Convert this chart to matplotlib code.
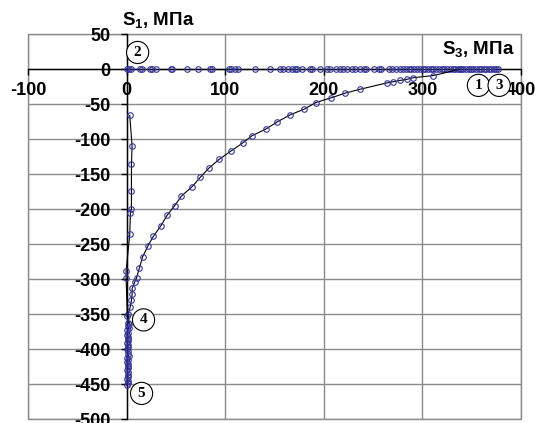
import matplotlib
matplotlib.use("Agg")
import matplotlib.pyplot as plt
from matplotlib.patches import Rectangle

plt.rcParams["font.family"] = ["Liberation Sans", "DejaVu Sans"]
plt.rcParams["mathtext.fontset"] = "custom"
plt.rcParams["mathtext.rm"] = "Liberation Sans"
plt.rcParams["mathtext.bf"] = "Liberation Sans:bold"
plt.rcParams["axes.unicode_minus"] = False

# Path along the S3 axis (S1 = 0)
path_a_s3 = [0.7, 2.3, 4.7, 13.5, 15.9, 23.6, 26, 29.4, 44.6, 46.3, 60.8, 72, 84, 86.7,
             103.6, 106, 109.5, 113, 130.3, 145, 156, 158.8, 163.5, 167.5, 170.6, 172.6,
             177.7, 186.2, 188.2, 196.4, 203, 206.5, 212, 216.7, 220, 223.5, 228.7, 232,
             236.5, 240.6, 242.7, 250.6, 255.7, 258.1, 266.7, 269.4, 273.5, 277, 280, 283,
             286.5, 289, 292, 295, 298, 300.5, 303, 306, 309, 311, 314, 317, 320, 322.5,
             325, 328, 331, 333.5, 336, 339, 341.5, 344, 347, 349.5, 352, 355, 357.5, 360,
             362.5, 365, 367.5, 370, 372.5, 375, 377]
path_a_s1 = [0] * len(path_a_s3)

# Curved path from point 1 to point 4
path_b_s3 = [338, 311, 291, 284, 277, 270, 264, 237, 222, 207, 192, 180, 166, 153, 141,
             127, 117.5, 105.5, 94, 83.5, 74.5, 66.5, 55.5, 48.5, 41, 34.4, 27, 21.6, 16,
             12.8, 10, 8, 5.4, 5.4, 4.7, 3.4, 1.3, 2.7]
path_b_s1 = [0, -9, -12, -14.5, -16, -18, -19.5, -28.5, -34, -41, -47.5, -57, -65, -75,
             -85.5, -95, -105.5, -117, -128.5, -141, -154.5, -167.5, -181, -195, -208.5,
             -224, -238.5, -252, -268, -284, -297.5, -304, -313, -321, -330, -340, -350,
             -364]

# Path along the S1 axis down to point 5
path_c_s3 = [3, 5.4, 4.7, 4.7, 4.7, 3.7, 3, -0.7, -0.7, 0.5, 1.5, 0.8, 1.8, 0.6, 1.2,
             0.4, 1.6, 0.9, 1.3, 0.5, 1.7, 1.0, 0.6, 1.4, 0.8, 1.9, 0.5, 1.2, 0.7, 1.5,
             0.9, 1.6, 0.4, 1.1, 0.8, 1.4, 0.6, 1.3, 1.0, 0.5]
path_c_s1 = [-66, -110, -136, -174, -199, -205, -236, -288, -298, -352, -362, -366,
             -370, -373, -376, -379, -382, -385, -388, -391, -394, -397, -400, -403,
             -406, -409, -412, -415, -418, -421, -424, -427, -430, -433, -436, -439,
             -442, -445, -448, -451]

# Numbered states
state_ids = ["1", "2", "3", "4", "5"]
state_s3 = [357, 11, 378, 17, 15]
state_s1 = [-23, 24, -23, -358, -463]

x_ticks = [-100, 0, 100, 200, 300, 400]
y_ticks = [50, 0, -50, -100, -150, -200, -250, -300, -350, -400, -450, -500]

fig = plt.figure(figsize=(5.4, 4.23), dpi=100)
ax = fig.add_axes([0.0524, 0.0087, 0.912, 0.9103])
ax.set_xlim(-100, 400)
ax.set_ylim(-500, 50)
ax.set_xticks(x_ticks)
ax.set_yticks(y_ticks)

grid_col = "#8a8a8a"
ax.grid(True, color=grid_col, lw=1.0, zorder=0)
ax.set_axisbelow(True)
ax.add_patch(Rectangle((0, 0), 1, 1, transform=ax.transAxes, fill=False,
                       edgecolor=grid_col, lw=1.0, clip_on=False, zorder=0.5))

for side in ("top", "right"):
    ax.spines[side].set_visible(False)
ax.spines["left"].set_position(("data", 0))
ax.spines["bottom"].set_position(("data", 0))
for side in ("left", "bottom"):
    ax.spines[side].set_color("black")
    ax.spines[side].set_linewidth(1.0)
    ax.spines[side].set_zorder(1)

ax.tick_params(axis="both", direction="out", length=4, width=1, color="black",
               labelsize=13)
ax.tick_params(axis="x", pad=5)
ax.tick_params(axis="y", pad=8)
for lab in ax.get_xticklabels() + ax.get_yticklabels():
    lab.set_fontweight("bold")

mk = dict(marker="o", markersize=4, markerfacecolor="none",
          markeredgecolor="#34349c", markeredgewidth=0.8,
          color="black", lw=0.8, zorder=3)
ax.plot(path_a_s3, path_a_s1, **mk)
ax.plot(path_b_s3, path_b_s1, **mk)
ax.plot(path_c_s3, path_c_s1, **mk)

for sid, sx, sy in zip(state_ids, state_s3, state_s1):
    ax.text(sx, sy, sid, ha="center", va="center", fontsize=11, fontweight="bold",
            family="Liberation Serif", zorder=5,
            bbox=dict(boxstyle="circle,pad=0.3", fc="white", ec="black", lw=0.8))

fig.text(122 / 540, 1 - 21 / 423, r"S$_\mathbf{1}$, МПа", ha="left", va="center",
         fontsize=13.5, fontweight="bold")
fig.text(515 / 540, 1 - 50 / 423, r"S$_\mathbf{3}$, МПа", ha="right", va="center",
         fontsize=13.5, fontweight="bold")

fig.savefig("out.png", dpi=100, facecolor="white")
